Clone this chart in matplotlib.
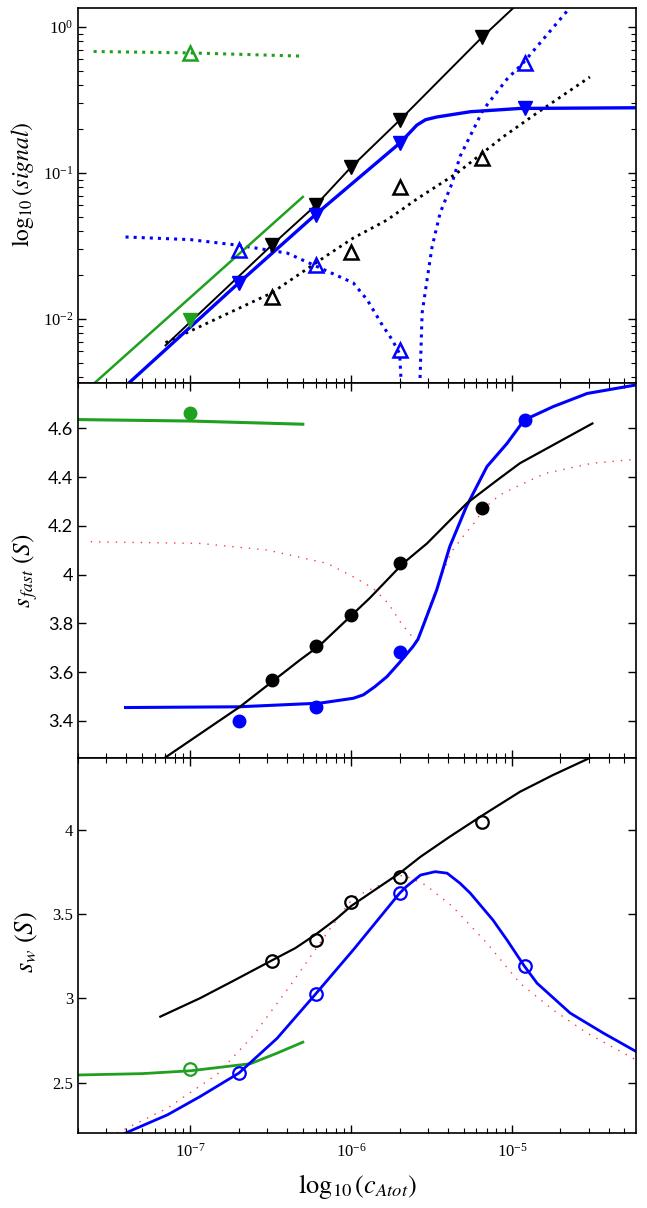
import matplotlib
matplotlib.use("Agg")
import matplotlib.pyplot as plt
from matplotlib.ticker import LogLocator, FixedLocator, FuncFormatter, NullFormatter

plt.rcParams['font.family'] = ['Liberation Serif', 'DejaVu Serif']
plt.rcParams['mathtext.fontset'] = 'stix'

BLACK = '#000000'
BLUE = '#0000ff'
GREEN = '#1fa01f'
RED = '#ff3a3a'

# ---------------- top panel: signal ----------------
sig_bk_pts_x = [3.2e-7, 6e-7, 1e-6, 2e-6, 6.5e-6]
sig_bk_pts_y = [0.0321, 0.0604, 0.110, 0.231, 0.855]
sig_bl_pts_x = [2e-7, 6e-7, 2e-6, 1.2e-5]
sig_bl_pts_y = [0.0177, 0.0515, 0.160, 0.279]
sig_gr_pts_x = [1e-7]
sig_gr_pts_y = [0.0098]

sig_bk_open_x = [3.2e-7, 1e-6, 2e-6, 6.5e-6]
sig_bk_open_y = [0.0142, 0.0288, 0.080, 0.127]
sig_bl_open_x = [2e-7, 6e-7, 2e-6, 1.2e-5]
sig_bl_open_y = [0.0297, 0.0234, 0.0061, 0.566]
sig_gr_open_x = [1e-7]
sig_gr_open_y = [0.663]

sig_bk_line_x = [7e-8, 3.2e-7, 6e-7, 1e-6, 2e-6, 6.5e-6, 1.2e-5]
sig_bk_line_y = [0.0066, 0.032, 0.060, 0.11, 0.23, 0.85, 1.6]
sig_bl_line_x = [4.2e-8, 2e-7, 6e-7, 2e-6, 2.56e-6, 2.9e-6, 3.4e-6, 5.5e-6, 1.12e-5, 5.9e-5]
sig_bl_line_y = [0.0037, 0.0177, 0.052, 0.16, 0.213, 0.232, 0.242, 0.263, 0.277, 0.28]
sig_gr_line_x = [2.5e-8, 5e-7]
sig_gr_line_y = [0.0036, 0.0686]

sig_bk_dot_x = [7e-8, 1.1e-7, 3.2e-7, 7.1e-7, 1.03e-6, 1.67e-6, 2.61e-6, 4.55e-6, 8.8e-6, 1.43e-5, 3.05e-5]
sig_bk_dot_y = [0.0069, 0.0087, 0.0151, 0.0274, 0.0359, 0.0477, 0.0674, 0.100, 0.177, 0.258, 0.455]
sig_bl_dot_x = [3.95e-8, 1e-7, 2e-7, 4e-7, 6.4e-7, 1.03e-6, 1.26e-6, 1.56e-6, 1.8e-6, 2.0e-6,
                2.05e-6, 2.2e-6, 2.4e-6, 2.6e-6, 2.69e-6, 2.76e-6, 2.96e-6, 3.18e-6, 3.57e-6,
                4.24e-6, 4.75e-6, 6.6e-6, 9.3e-6, 1.17e-5, 2.23e-5, 2.6e-5]
sig_bl_dot_y = [0.0365, 0.035, 0.032, 0.0283, 0.0224, 0.0177, 0.0135, 0.0091, 0.0072, 0.0058,
                0.0035, 0.0015, 0.0005, 0.0015, 0.0045, 0.011, 0.0185, 0.0311, 0.0532,
                0.0855, 0.13, 0.27, 0.44, 0.566, 1.31, 1.7]
sig_gr_dot_x = [2.5e-8, 1e-7, 5e-7]
sig_gr_dot_y = [0.68, 0.665, 0.632]

# ---------------- middle panel: s_fast ----------------
sf_bk_pts_x = [3.2e-7, 6e-7, 1e-6, 2e-6, 6.5e-6]
sf_bk_pts_y = [3.568, 3.707, 3.834, 4.046, 4.272]
sf_bl_pts_x = [2e-7, 6e-7, 2e-6, 1.2e-5]
sf_bl_pts_y = [3.40, 3.456, 3.684, 4.634]
sf_gr_pts_x = [1e-7]
sf_gr_pts_y = [4.664]

sf_bk_line_x = [6.8e-8, 2.04e-7, 4.8e-7, 6.4e-7, 1.3e-6, 2.1e-6, 2.96e-6, 5.24e-6, 8.1e-6, 1.12e-5, 3.16e-5]
sf_bk_line_y = [3.245, 3.459, 3.65, 3.711, 3.903, 4.046, 4.128, 4.293, 4.388, 4.457, 4.62]
sf_bl_line_x = [3.95e-8, 2e-7, 6.4e-7, 1.03e-6, 1.19e-6, 1.4e-6, 1.67e-6, 2.0e-6, 2.42e-6, 2.6e-6,
                2.79e-6, 3.4e-6, 4.1e-6, 5.2e-6, 6.98e-6, 9.3e-6, 1.19e-5, 1.8e-5, 2.93e-5, 5.9e-5]
sf_bl_line_y = [3.455, 3.458, 3.473, 3.493, 3.507, 3.54, 3.582, 3.64, 3.705, 3.735,
                3.787, 3.937, 4.115, 4.279, 4.443, 4.538, 4.634, 4.689, 4.743, 4.778]
sf_gr_line_x = [2e-8, 1e-7, 5e-7]
sf_gr_line_y = [4.636, 4.630, 4.617]
sf_rd_dot_x = [2.4e-8, 1.15e-7, 3e-7, 7.1e-7, 1.03e-6, 1.37e-6, 1.7e-6, 2.05e-6, 2.25e-6, 2.56e-6,
               2.87e-6, 3.35e-6, 4.2e-6, 4.95e-6, 5.9e-6, 6.7e-6, 8.4e-6, 1.07e-5, 1.6e-5, 3.16e-5, 5.9e-5]
sf_rd_dot_y = [4.135, 4.128, 4.101, 4.046, 3.991, 3.944, 3.882, 3.80, 3.766, 3.725,
               3.821, 3.937, 4.094, 4.156, 4.217, 4.272, 4.327, 4.361, 4.415, 4.457, 4.473]

# ---------------- bottom panel: s_w ----------------
sw_bk_pts_x = [3.2e-7, 6e-7, 1e-6, 2e-6, 6.5e-6]
sw_bk_pts_y = [3.225, 3.348, 3.576, 3.724, 4.051]
sw_bl_pts_x = [2e-7, 6e-7, 2e-6, 1.2e-5]
sw_bl_pts_y = [2.556, 3.026, 3.626, 3.194]
sw_gr_pts_x = [1e-7]
sw_gr_pts_y = [2.582]

sw_bk_line_x = [6.5e-8, 1.15e-7, 1.85e-7, 3.25e-7, 4.5e-7, 6e-7, 8e-7, 1e-6, 1.45e-6, 2e-6, 2.7e-6,
                4.1e-6, 6.6e-6, 1.12e-5, 1.8e-5, 3.2e-5]
sw_bk_line_y = [2.892, 3.002, 3.105, 3.229, 3.30, 3.38, 3.47, 3.55, 3.655, 3.745, 3.843,
                3.962, 4.091, 4.229, 4.329, 4.44]
sw_bl_line_x = [3.95e-8, 7.2e-8, 1.15e-7, 2e-7, 3.46e-7, 6e-7, 1.03e-6, 2e-6, 2.2e-6, 2.7e-6,
                3.33e-6, 3.95e-6, 4.75e-6, 5.5e-6, 7.6e-6, 9.3e-6, 1.19e-5, 1.43e-5, 2.3e-5,
                3.7e-5, 5.9e-5]
sw_bl_line_y = [2.20, 2.308, 2.417, 2.556, 2.763, 3.026, 3.289, 3.626, 3.665, 3.734,
                3.754, 3.745, 3.685, 3.626, 3.467, 3.348, 3.194, 3.091, 2.913,
                2.794, 2.685]
sw_gr_line_x = [2e-8, 5e-8, 1e-7, 2.36e-7, 3.4e-7, 5e-7]
sw_gr_line_y = [2.545, 2.553, 2.570, 2.612, 2.672, 2.74]
sw_rd_dot_x = [3.5e-8, 7.2e-8, 1.47e-7, 2.46e-7, 4.2e-7, 7.2e-7, 1.03e-6, 1.3e-6, 2.1e-6, 2.9e-6,
               4.27e-6, 6.98e-6, 1.12e-5, 1.8e-5, 2.93e-5, 5.9e-5]
sw_rd_dot_y = [2.2, 2.348, 2.55, 2.78, 3.08, 3.40, 3.6, 3.646, 3.735, 3.675,
               3.546, 3.329, 3.091, 2.932, 2.794, 2.635]

XLIM = (2.0e-8, 5.9e-5)

W, H = 647, 1208
fig = plt.figure(figsize=(W / 100, H / 100), dpi=100)
left = 78 / W
width = (636 - 78) / W
ph = 375 / H
ax1 = fig.add_axes([left, 1 - 383 / H, width, ph])
ax2 = fig.add_axes([left, 1 - 758 / H, width, ph], sharex=ax1)
ax3 = fig.add_axes([left, 1 - 1133 / H, width, ph], sharex=ax1)

# top panel
ax1.set_yscale('log')
ax1.plot(sig_gr_dot_x, sig_gr_dot_y, color=GREEN, ls=':', lw=2.2)
ax1.plot(sig_bl_dot_x, sig_bl_dot_y, color=BLUE, ls=':', lw=2.2)
ax1.plot(sig_bk_dot_x, sig_bk_dot_y, color=BLACK, ls=':', lw=2.0)
ax1.plot(sig_gr_line_x, sig_gr_line_y, color=GREEN, lw=1.8)
ax1.plot(sig_bl_line_x, sig_bl_line_y, color=BLUE, lw=2.4)
ax1.plot(sig_bk_line_x, sig_bk_line_y, color=BLACK, lw=1.4)
for xs, ys, c in [(sig_bk_pts_x, sig_bk_pts_y, BLACK), (sig_bl_pts_x, sig_bl_pts_y, BLUE),
                  (sig_gr_pts_x, sig_gr_pts_y, GREEN)]:
    ax1.plot(xs, ys, ls='none', marker='v', ms=10, color=c, mec=c)
for xs, ys, c in [(sig_bk_open_x, sig_bk_open_y, BLACK), (sig_bl_open_x, sig_bl_open_y, BLUE),
                  (sig_gr_open_x, sig_gr_open_y, GREEN)]:
    ax1.plot(xs, ys, ls='none', marker='^', ms=10, mfc='none', mec=c, mew=1.8)
ax1.set_ylim(3.65e-3, 1.35)
ax1.yaxis.set_major_locator(LogLocator(base=10, numticks=10))
ax1.yaxis.set_minor_locator(LogLocator(base=10, subs=range(2, 10), numticks=10))
ax1.yaxis.set_minor_formatter(NullFormatter())
ax1.set_ylabel(r'$\mathrm{log}_{10}\,(\mathit{signal})$', fontsize=17)
ax1.yaxis.set_label_coords(-0.075, 0.53)

# middle panel
ax2.plot(sf_rd_dot_x, sf_rd_dot_y, color=RED, ls=(0, (1, 5)), lw=1.0)
ax2.plot(sf_gr_line_x, sf_gr_line_y, color=GREEN, lw=2.2)
ax2.plot(sf_bl_line_x, sf_bl_line_y, color=BLUE, lw=2.2)
ax2.plot(sf_bk_line_x, sf_bk_line_y, color=BLACK, lw=1.6)
for xs, ys, c in [(sf_bk_pts_x, sf_bk_pts_y, BLACK), (sf_bl_pts_x, sf_bl_pts_y, BLUE),
                  (sf_gr_pts_x, sf_gr_pts_y, GREEN)]:
    ax2.plot(xs, ys, ls='none', marker='o', ms=9, color=c, mec=c)
ax2.set_ylim(3.248, 4.786)
ax2.yaxis.set_major_locator(FixedLocator([3.4, 3.6, 3.8, 4.0, 4.2, 4.4, 4.6]))
ax2.yaxis.set_major_formatter(FuncFormatter(lambda v, p: '%g' % round(v, 2)))
ax2.set_ylabel(r'$s_{\,fast}\ (S)$', fontsize=18)
ax2.yaxis.set_label_coords(-0.068, 0.5)

# bottom panel
ax3.plot(sw_rd_dot_x, sw_rd_dot_y, color=RED, ls=(0, (1, 5)), lw=1.0)
ax3.plot(sw_gr_line_x, sw_gr_line_y, color=GREEN, lw=2.0)
ax3.plot(sw_bl_line_x, sw_bl_line_y, color=BLUE, lw=2.0)
ax3.plot(sw_bk_line_x, sw_bk_line_y, color=BLACK, lw=1.6)
for xs, ys, c in [(sw_bk_pts_x, sw_bk_pts_y, BLACK), (sw_bl_pts_x, sw_bl_pts_y, BLUE),
                  (sw_gr_pts_x, sw_gr_pts_y, GREEN)]:
    ax3.plot(xs, ys, ls='none', marker='o', ms=9, mfc='none', mec=c, mew=1.6)
ax3.set_ylim(2.20, 4.43)
ax3.yaxis.set_major_locator(FixedLocator([2.5, 3.0, 3.5, 4.0]))
ax3.yaxis.set_major_formatter(FuncFormatter(lambda v, p: '%g' % round(v, 2)))
ax3.set_ylabel(r'$s_{w}\ (S)$', fontsize=19)
ax3.yaxis.set_label_coords(-0.068, 0.51)
ax3.set_xlabel(r'$\mathrm{log}_{10}\,(c_{Atot})$', fontsize=19, labelpad=8)

ax1.set_xscale('log')
ax1.set_xlim(*XLIM)
ax1.xaxis.set_major_locator(LogLocator(base=10, numticks=10))
ax1.xaxis.set_minor_locator(LogLocator(base=10, subs=range(2, 10), numticks=10))
ax1.xaxis.set_minor_formatter(NullFormatter())

for i, ax in enumerate((ax1, ax2, ax3)):
    ax.tick_params(which='both', direction='in', right=True, top=(i > 0), labelsize=12)
    ax.tick_params(which='major', length=6, width=1)
    ax.tick_params(which='minor', length=3.5, width=0.8)
    ax.tick_params(axis='x', which='major', pad=7)
    for s in ax.spines.values():
        s.set_linewidth(1.2)
    if i < 2:
        plt.setp(ax.get_xticklabels(), visible=False)

for lab in ax2.get_yticklabels():
    lab.set_fontfamily(['Lato', 'DejaVu Sans'])
    lab.set_fontsize(13)

fig.savefig('out.png', dpi=100)
